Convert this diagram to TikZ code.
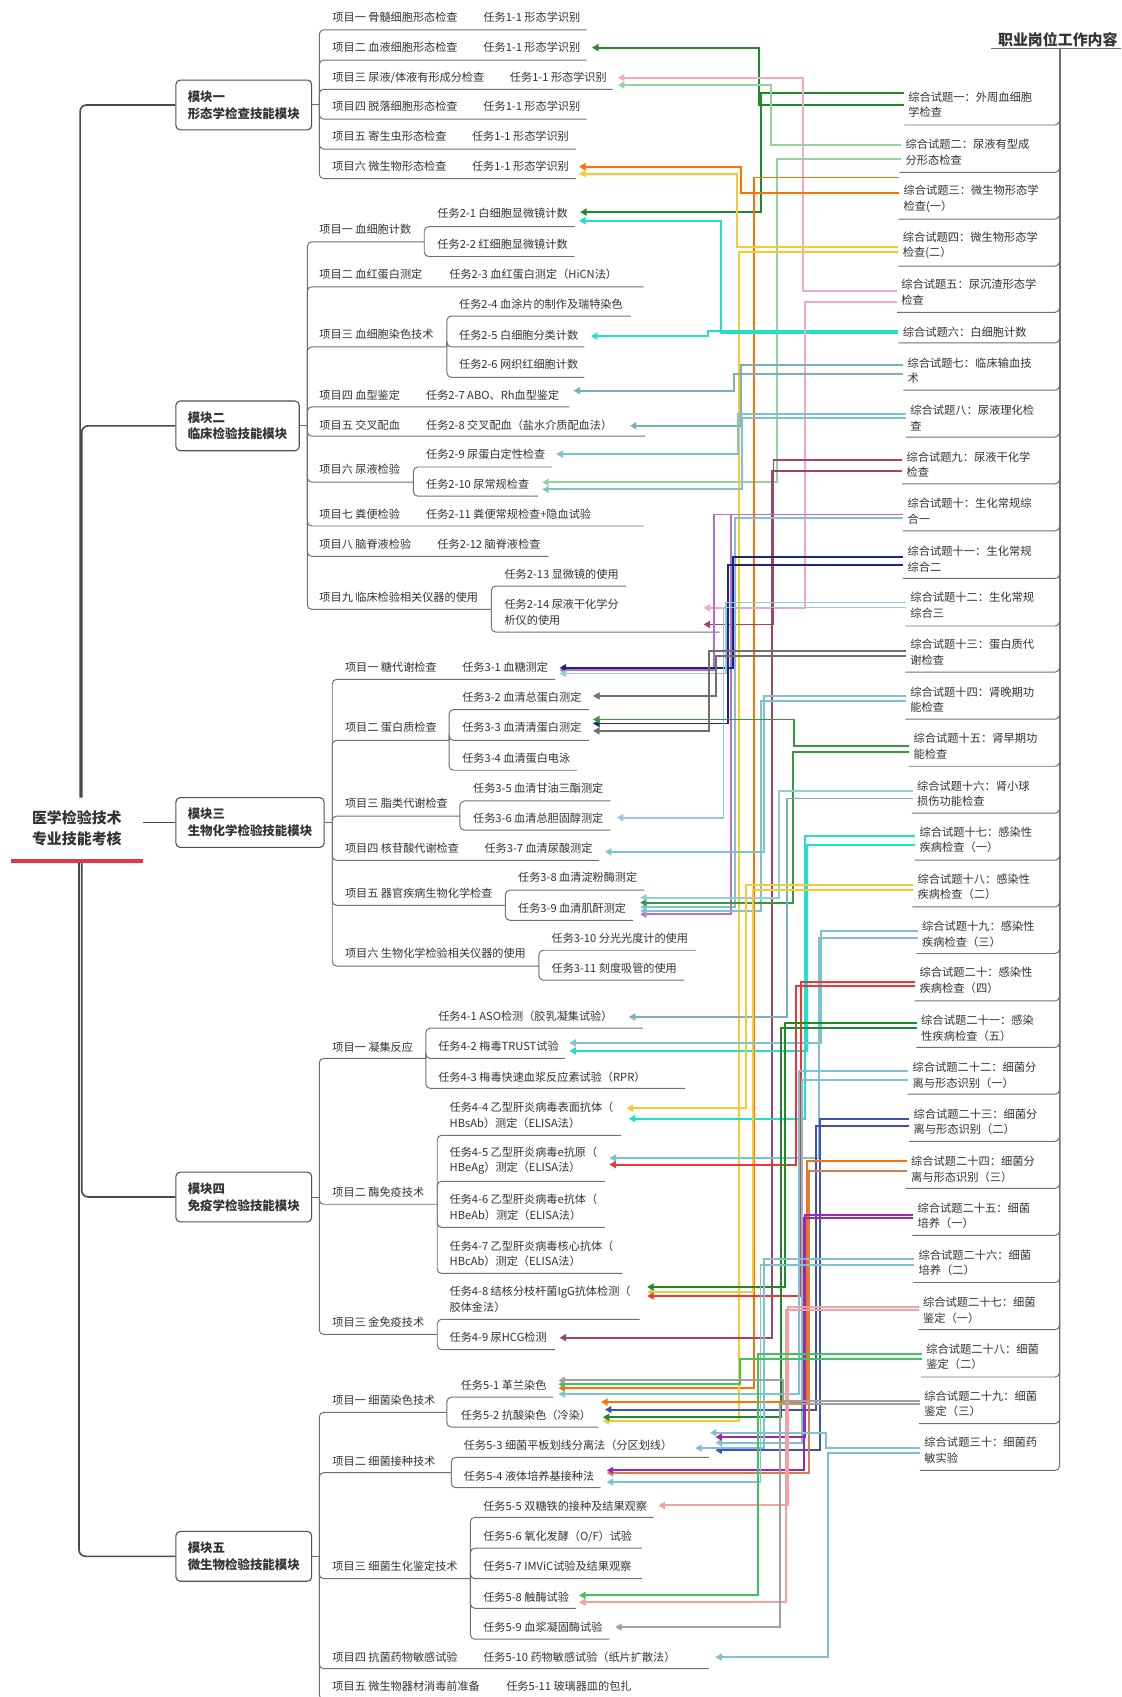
\documentclass[tikz,border=0pt]{standalone}
\usepackage{fontspec}
\setmainfont{Noto Sans CJK SC}
\usetikzlibrary{arrows.meta}
\definecolor{txtc}{HTML}{333333}
\definecolor{ulc}{HTML}{707070}
\definecolor{boxc}{HTML}{505050}
\definecolor{trc}{HTML}{4A4A4A}
\definecolor{rootred}{HTML}{E8334A}
\definecolor{dkgreen}{HTML}{1E8A28}
\definecolor{pinkc}{HTML}{F6A8CC}
\definecolor{lgreen}{HTML}{8FD49A}
\definecolor{orangec}{HTML}{FF7000}
\definecolor{yellowc}{HTML}{F8C930}
\definecolor{cyanc}{HTML}{1FE0C8}
\definecolor{lblue}{HTML}{7DC2D2}
\definecolor{lblueb}{HTML}{93CBDA}
\definecolor{steel}{HTML}{78B0C0}
\definecolor{cmaroon}{HTML}{A0446E}
\definecolor{orchid}{HTML}{BA6CCA}
\definecolor{cnavy}{HTML}{1C2580}
\definecolor{grayc}{HTML}{707070}
\definecolor{medgreen}{HTML}{349A3A}
\definecolor{redc}{HTML}{E8383A}
\definecolor{blueb}{HTML}{3F51B5}
\definecolor{brorange}{HTML}{D28048}
\definecolor{purplec}{HTML}{9C27B0}
\definecolor{salmon}{HTML}{F5A0A0}
\definecolor{bgreen}{HTML}{3DC45A}
\definecolor{lgray}{HTML}{A0A0A0}
\newcommand\cx[6]{\draw[conn,#1] (#2.west |- 0,#3) -| (#4,#5) -- (#6,#5);}
\begin{document}
\begin{tikzpicture}[x=1pt,y=-1pt,
  txt/.style={anchor=west,inner sep=0pt,font=\fontsize{10.3}{14.3}\selectfont,text=txtc,align=left},
  rtxt/.style={anchor=west,inner sep=0pt,font=\fontsize{10.4}{14.4}\selectfont,text=txtc,align=left},
  ul/.style={draw=ulc,line width=0.9pt,rounded corners=4pt},
  modbox/.style={draw=boxc,line width=1pt,rounded corners=4pt,fill=white,inner xsep=11pt,minimum height=46pt,align=left,font=\fontsize{11.5}{15.5}\selectfont\bfseries,text=txtc,anchor=west},
  trunk/.style={draw=trc,line width=1.5pt,rounded corners=6pt},
  conn/.style={line width=1.8pt,shorten <=4pt,-{Triangle[length=6pt,width=6.5pt]}}]
\useasboundingbox (0,0) rectangle (1036,1568);
\fill[white] (0,0) rectangle (1036,1568);
\clip (0,0) rectangle (1036,1568);

% ---------- root ----------
\node[align=center,inner sep=0pt,font=\fontsize{13.8}{19}\selectfont\bfseries,text=txtc] (root) at (71,765.5) {医学检验技术\\专业技能考核};
\draw[line width=3pt,draw=rootred] (10,795.5) -- (132,795.5);

% ---------- modules ----------
\node[modbox] (m1) at (162,97) {模块一\\形态学检查技能模块};
\node[modbox] (m2) at (162,393.5) {模块二\\临床检验技能模块};
\node[modbox] (m3) at (162,760) {模块三\\生物化学检验技能模块};
\node[modbox] (m4) at (162,1106) {模块四\\免疫学检验技能模块};
\node[modbox] (m5) at (162,1438) {模块五\\微生物检验技能模块};

\draw[trunk] (74,737) |- (m1.west);
\draw[trunk] (75.5,737) |- (m2.west);
\draw[trunk] (132,760) -- (m3.west);
\draw[trunk] (75.5,797) |- (m4.west);
\draw[trunk] (73,797) |- (m5.west);

% ---------- module 1 tree ----------
\draw[ul] (m1.east) -- (295,97);
\foreach \y/\e in {27.7/542,55.5/542,82.5/566,110/542,137.7/532,165/532} \draw[ul] (295,97) |- (\e,\y);
\node[txt] (a1) at (307,16) {项目一 骨髓细胞形态检查};
\node[txt] (a1t) at (446.5,16) {任务1-1 形态学识别};
\node[txt] (a2) at (307,44) {项目二 血液细胞形态检查};
\node[txt] (a2t) at (446.5,44) {任务1-1 形态学识别};
\node[txt] (a3) at (307,71.5) {项目三 尿液/体液有形成分检查};
\node[txt] (a3t) at (471,71.5) {任务1-1 形态学识别};
\node[txt] (a4) at (307,98.6) {项目四 脱落细胞形态检查};
\node[txt] (a4t) at (446.5,98.6) {任务1-1 形态学识别};
\node[txt] (a5) at (307,126) {项目五 寄生虫形态检查};
\node[txt] (a5t) at (436,126) {任务1-1 形态学识别};
\node[txt] (a6) at (307,153.4) {项目六 微生物形态检查};
\node[txt] (a6t) at (436,153.4) {任务1-1 形态学识别};

% ---------- module 2 tree ----------
\draw[ul] (m2.east) -- (284,393.5);
\foreach \y/\e in {223.5/392,265/594.6,320.5/413,376/526,403/596,445.4/382,486/594.6,514/507,563/454} \draw[ul] (284,393.5) |- (\e,\y);
\foreach \y/\e in {209.5/531,237/531} \draw[ul] (392,223.5) |- (\e,\y);
\foreach \y/\e in {292/583,320.5/540,348.6/540} \draw[ul] (413,320.5) |- (\e,\y);
\foreach \y/\e in {431.5/510,458.4/497} \draw[ul] (382,445.4) |- (\e,\y);
\foreach \y/\e in {541.5/578.6,584/665} \draw[ul] (454,563) |- (\e,\y);
\node[txt] (b1) at (295,212) {项目一 血细胞计数};
\node[txt] (t21) at (404,197) {任务2-1 白细胞显微镜计数};
\node[txt] (t22) at (404,226) {任务2-2 红细胞显微镜计数};
\node[txt] (b2) at (295,253) {项目二 血红蛋白测定};
\node[txt] (t23) at (415,253) {任务2-3 血红蛋白测定（HiCN法）};
\node[txt] (b3) at (295,309) {项目三 血细胞染色技术};
\node[txt] (t24) at (424,281) {任务2-4 血涂片的制作及瑞特染色};
\node[txt] (t25) at (424,309.6) {任务2-5 白细胞分类计数};
\node[txt] (t26) at (424,337) {任务2-6 网织红细胞计数};
\node[txt] (b4) at (295,365) {项目四 血型鉴定};
\node[txt] (t27) at (393.6,365) {任务2-7 ABO、Rh血型鉴定};
\node[txt] (b5) at (295,393) {项目五 交叉配血};
\node[txt] (t28) at (393.6,393) {任务2-8 交叉配血（盐水介质配血法）};
\node[txt] (b6) at (295,433.6) {项目六 尿液检验};
\node[txt] (t29) at (393.6,419.6) {任务2-9 尿蛋白定性检查};
\node[txt] (t210) at (393.6,447.5) {任务2-10 尿常规检查};
\node[txt] (b7) at (295,475) {项目七 粪便检验};
\node[txt] (t211) at (393.6,475) {任务2-11 粪便常规检查+隐血试验};
\node[txt] (b8) at (295,503) {项目八 脑脊液检验};
\node[txt] (t212) at (404,503) {任务2-12 脑脊液检查};
\node[txt] (b9) at (295,551.5) {项目九 临床检验相关仪器的使用};
\node[txt] (t213) at (466,530.5) {任务2-13 显微镜的使用};
\node[txt] (t214) at (466,565.5) {任务2-14 尿液干化学分\\析仪的使用};

% ---------- module 3 tree ----------
\draw[ul] (m3.east) -- (307,760);
\foreach \y/\e in {627.7/513,684/415,754/425,795/553.5,836.5/467,892.6/498} \draw[ul] (307,760) |- (\e,\y);
\foreach \y/\e in {655.6/544,684/544,711.7/533} \draw[ul] (415,684) |- (\e,\y);
\foreach \y/\e in {740/564,767/564} \draw[ul] (425,754) |- (\e,\y);
\foreach \y/\e in {822.5/595,850.3/585} \draw[ul] (467,836.5) |- (\e,\y);
\foreach \y/\e in {878/643,905.7/632} \draw[ul] (498,892.6) |- (\e,\y);
\node[txt] (c1) at (318.6,616.6) {项目一 糖代谢检查};
\node[txt] (t31) at (427,616.6) {任务3-1 血糖测定};
\node[txt] (c2) at (318.6,672) {项目二 蛋白质检查};
\node[txt] (t32) at (427,644) {任务3-2 血清总蛋白测定};
\node[txt] (t33) at (427,672) {任务3-3 血清清蛋白测定};
\node[txt] (t34) at (427,700.4) {任务3-4 血清蛋白电泳};
\node[txt] (c3) at (318.6,742) {项目三 脂类代谢检查};
\node[txt] (t35) at (437,728) {任务3-5 血清甘油三酯测定};
\node[txt] (t36) at (437,756) {任务3-6 血清总胆固醇测定};
\node[txt] (c4) at (318.6,784) {项目四 核苷酸代谢检查};
\node[txt] (t37) at (447.5,784) {任务3-7 血清尿酸测定};
\node[txt] (c5) at (318.6,825.3) {项目五 器官疾病生物化学检查};
\node[txt] (t38) at (478.6,810.5) {任务3-8 血清淀粉酶测定};
\node[txt] (t39) at (478.6,839) {任务3-9 血清肌酐测定};
\node[txt] (c6) at (318.6,881) {项目六 生物化学检验相关仪器的使用};
\node[txt] (t310) at (509.5,867) {任务3-10 分光光度计的使用};
\node[txt] (t311) at (509.5,894.6) {任务3-11 刻度吸管的使用};

% ---------- module 4 tree ----------
\draw[ul] (m4.east) -- (295,1106);
\foreach \y/\e in {978/393.5,1112.7/404,1233/404} \draw[ul] (295,1106) |- (\e,\y);
\foreach \y/\e in {950/594,978/522,1005.6/633} \draw[ul] (393.5,978) |- (\e,\y);
\foreach \y/\e in {1049/574,1091.5/559,1134/559,1176.6/575} \draw[ul] (404,1112.7) |- (\e,\y);
\foreach \y/\e in {1219/591,1247/513} \draw[ul] (404,1233) |- (\e,\y);
\node[txt] (d1) at (307,967.4) {项目一 凝集反应};
\node[txt] (t41) at (404.8,938.7) {任务4-1 ASO检测（胶乳凝集试验）};
\node[txt] (t42) at (404.8,966.7) {任务4-2 梅毒TRUST试验};
\node[txt] (t43) at (404.8,995) {任务4-3 梅毒快速血浆反应素试验（RPR）};
\node[txt] (d2) at (307,1101.5) {项目二 酶免疫技术};
\node[txt] (t44) at (415.3,1030.5) {任务4-4 乙型肝炎病毒表面抗体（\\HBsAb）测定（ELISA法）};
\node[txt] (t45) at (415.3,1072.3) {任务4-5 乙型肝炎病毒e抗原（\\HBeAg）测定（ELISA法）};
\node[txt] (t46) at (415.3,1115.5) {任务4-6 乙型肝炎病毒e抗体（\\HBeAb）测定（ELISA法）};
\node[txt] (t47) at (415.3,1158.5) {任务4-7 乙型肝炎病毒核心抗体（\\HBcAb）测定（ELISA法）};
\node[txt] (d3) at (307,1221.5) {项目三 金免疫技术};
\node[txt] (t48) at (415.3,1200.5) {任务4-8 结核分枝杆菌IgG抗体检测（\\胶体金法）};
\node[txt] (t49) at (415.3,1235.6) {任务4-9 尿HCG检测};

% ---------- module 5 tree ----------
\draw[ul] (m5.east) -- (295,1438);
\foreach \y/\e in {1305/413,1360.7/417,1458.6/434.7,1541.8/655,1570/600} \draw[ul] (295,1438) |- (\e,\y);
\foreach \y/\e in {1291/511,1318.6/553} \draw[ul] (413,1305) |- (\e,\y);
\foreach \y/\e in {1346.6/655,1374.6/555} \draw[ul] (417,1360.7) |- (\e,\y);
\foreach \y/\e in {1402/604,1430.5/593,1458.6/593,1486/532,1514.6/563} \draw[ul] (434.7,1458.6) |- (\e,\y);
\node[txt] (e1) at (307,1294) {项目一 细菌染色技术};
\node[txt] (t51) at (425.6,1280) {任务5-1 革兰染色};
\node[txt] (t52) at (425.6,1308) {任务5-2 抗酸染色（冷染）};
\node[txt] (e2) at (307,1350) {项目二 细菌接种技术};
\node[txt] (t53) at (428.5,1335.5) {任务5-3 细菌平板划线分离法（分区划线）};
\node[txt] (t54) at (428.5,1364) {任务5-4 液体培养基接种法};
\node[txt] (e3) at (307,1447.5) {项目三 细菌生化鉴定技术};
\node[txt] (t55) at (446.4,1391.7) {任务5-5 双糖铁的接种及结果观察};
\node[txt] (t56) at (446.4,1419.5) {任务5-6 氧化发酵（O/F）试验};
\node[txt] (t57) at (446.4,1447.5) {任务5-7 IMViC试验及结果观察};
\node[txt] (t58) at (446.4,1475.7) {任务5-8 触酶试验};
\node[txt] (t59) at (446.4,1503.5) {任务5-9 血浆凝固酶试验};
\node[txt] (e4) at (307,1531) {项目四 抗菌药物敏感试验};
\node[txt] (t510) at (446.4,1531) {任务5-10 药物敏感试验（纸片扩散法）};
\node[txt] (e5) at (307,1558) {项目五 微生物器材消毒前准备};
\node[txt] (t511) at (467.6,1558) {任务5-11 玻璃器皿的包扎};

% ---------- right side ----------
\node[anchor=west,inner sep=0pt,font=\fontsize{13.8}{16}\selectfont\bfseries,text=txtc] (hd) at (922,36.4) {职业岗位工作内容};
\draw[ul] (916,44.7) -- (1036,44.7);
\foreach \y/\l in {115.5/835.6,159.3/831,202.4/830,245.8/830,288.6/829,316.9/830,360.5/834.8,403.8/837,447/833.6,490.5/834,534.5/834,578.4/836.5,621/836.5,664.5/836.5,708/840,751.4/842.6,794.8/845,838/843,881/847,924.8/845,967.8/846.6,1011/838.5,1054.5/840,1098/837,1141.5/843,1185/844,1228.5/848.7,1272.3/851,1315.4/849,1358.6/850} \draw[ul] (979,44.7) |- (\l,\y);
\node[rtxt] (r1) at (839,96.9) {综合试题一：外周血细胞\\学检查};
\node[rtxt] (r2) at (836.5,140.6) {综合试题二：尿液有型成\\分形态检查};
\node[rtxt] (r3) at (834.7,183.8) {综合试题三：微生物形态学\\检查(一）};
\node[rtxt] (r4) at (834,226.8) {综合试题四：微生物形态学\\检查(二）};
\node[rtxt] (r5) at (832.7,270.2) {综合试题五：尿沉渣形态学\\检查};
\node[rtxt] (r6) at (834,306.6) {综合试题六：白细胞计数};
\node[rtxt] (r7) at (838.5,342.5) {综合试题七：临床输血技\\术};
\node[rtxt] (r8) at (841,386.2) {综合试题八：尿液理化检\\查};
\node[rtxt] (r9) at (837.4,429.2) {综合试题九：尿液干化学\\检查};
\node[rtxt] (r10) at (838.5,472.3) {综合试题十：生化常规综\\合一};
\node[rtxt] (r11) at (838.5,516.5) {综合试题十一：生化常规\\综合二};
\node[rtxt] (r12) at (841,559.2) {综合试题十二：生化常规\\综合三};
\node[rtxt] (r13) at (841,602.7) {综合试题十三：蛋白质代\\谢检查};
\node[rtxt] (r14) at (841,646.4) {综合试题十四：肾晚期功\\能检查};
\node[rtxt] (r15) at (844,689.4) {综合试题十五：肾早期功\\能检查};
\node[rtxt] (r16) at (847.2,733.4) {综合试题十六：肾小球\\损伤功能检查};
\node[rtxt] (r17) at (849.4,776) {综合试题十七：感染性\\疾病检查（一）};
\node[rtxt] (r18) at (847.7,819.4) {综合试题十八：感染性\\疾病检查（二）};
\node[rtxt] (r19) at (851.8,863.1) {综合试题十九：感染性\\疾病检查（三）};
\node[rtxt] (r20) at (849.6,906) {综合试题二十：感染性\\疾病检查（四）};
\node[rtxt] (r21) at (851,950) {综合试题二十一：感染\\性疾病检查（五）};
\node[rtxt] (r22) at (843,993.3) {综合试题二十二：细菌分\\离与形态识别（一）};
\node[rtxt] (r23) at (844,1036.6) {综合试题二十三：细菌分\\离与形态识别（二）};
\node[rtxt] (r24) at (841.6,1080.2) {综合试题二十四：细菌分\\离与形态识别（三）};
\node[rtxt] (r25) at (847.7,1123.5) {综合试题二十五：细菌\\培养（一）};
\node[rtxt] (r26) at (848.6,1166.8) {综合试题二十六：细菌\\培养（二）};
\node[rtxt] (r27) at (852.7,1210.4) {综合试题二十七：细菌\\鉴定（一）};
\node[rtxt] (r28) at (855.8,1253.7) {综合试题二十八：细菌\\鉴定（二）};
\node[rtxt] (r29) at (854,1297) {综合试题二十九：细菌\\鉴定（三）};
\node[rtxt] (r30) at (854,1340.1) {综合试题三十：细菌药\\敏实验};

% ---------- connectors ----------
\cx{dkgreen}{r1}{97}{701.5}{44}{547}
\cx{dkgreen}{r1}{85.6}{703.5}{196}{536}
\cx{pinkc}{r5}{268.7}{742}{71.8}{571}
\cx{lgreen}{r2}{134}{712.6}{78.6}{571}
\cx{lgreen}{r2}{147}{718}{445.6}{501}
\cx{orangec}{r3}{178}{684.8}{154}{535}
\cx{orangec}{r3}{164}{696.5}{1282.5}{516}
\cx{yellowc}{r4}{228.5}{680.8}{160.5}{535}
\cx{yellowc}{r4}{232.6}{682.6}{1313}{557}
\cx{cyanc}{r6}{308}{666}{204}{535}
\cx{cyanc}{r6}{305.5}{654}{310.5}{546}
\cx{pinkc}{r5}{279}{744}{561.6}{650}
\cx{steel}{r7}{346}{678.4}{361}{530}
\cx{steel}{r7}{337.3}{684.5}{393.4}{582}
\cx{lblue}{r8}{382.6}{682}{419.6}{514}
\cx{lblue}{r8}{386.6}{686}{452.2}{501}
\cx{cmaroon}{r9}{425}{714.7}{577}{650}
\cx{cmaroon}{r9}{435.6}{713}{1236}{517}
\cx{orchid}{r10}{475.4}{660}{619.2}{517}
\cx{lblue}{r10}{478.5}{679.3}{838}{591.5}
\cx{orchid}{r10}{475.4}{675}{844.7}{591.5}
\cx{cnavy}{r11}{515}{677}{617}{517}
\cx{cnavy}{r11}{522}{673}{668.5}{548}
\cx{lblueb}{r12}{556.7}{671}{622.3}{517}
\cx{lblueb}{r12}{561.3}{668.5}{755.4}{570}
\cx{grayc}{r13}{601.7}{654.7}{675.3}{548}
\cx{grayc}{r13}{606.3}{661.7}{643}{548}
\cx{lblue}{r14}{643.3}{705.5}{787}{559}
\cx{lblue}{r14}{647.6}{703.3}{841.7}{591.5}
\cx{medgreen}{r15}{689.5}{734}{664.8}{548}
\cx{medgreen}{r15}{694.7}{732.6}{834}{591.5}
\cx{lblueb}{r16}{730.7}{720}{829.3}{591.5}
\cx{steel}{r16}{737.8}{727}{939.6}{581}
\cx{cyanc}{r17}{772.6}{744}{1033.6}{581}
\cx{cyanc}{r17}{781}{746}{971}{526}
\cx{yellowc}{r18}{817.3}{689}{1024}{579}
\cx{yellowc}{r18}{822.6}{695.6}{1193.7}{598}
\cx{lblue}{r19}{860.4}{758.5}{963.6}{526}
\cx{lblue}{r19}{866.3}{756.3}{1070}{563}
\cx{redc}{r20}{907.3}{740.3}{1197.5}{598}
\cx{redc}{r20}{911}{735.7}{1076}{563}
\cx{dkgreen}{r21}{945.2}{725.5}{1189.2}{598}
\cx{dkgreen}{r21}{949.8}{721.2}{1309.5}{557}
\cx{lblue}{r22}{989.5}{738.5}{1288}{516}
\cx{lblue}{r22}{997.5}{741}{1333}{661}
\cx{blueb}{r23}{1034.2}{757.9}{1340}{661}
\cx{blueb}{r23}{1040.7}{754.2}{1302.5}{559}
\cx{orangec}{r24}{1072.7}{745.8}{1295.5}{555.4}
\cx{brorange}{r24}{1082.3}{747.4}{1361}{560.6}
\cx{purplec}{r25}{1123}{744.2}{1327.8}{661}
\cx{purplec}{r25}{1125.4}{742.5}{1358.6}{560.6}
\cx{lblue}{r26}{1163}{706}{1338}{642.3}
\cx{lblue}{r26}{1169}{702.7}{1369.4}{560.6}
\cx{salmon}{r27}{1207.7}{728}{1391}{608.4}
\cx{salmon}{r27}{1210.7}{726}{1480.3}{535}
\cx{bgreen}{r28}{1250.8}{700.2}{1474}{535}
\cx{bgreen}{r28}{1255.4}{684}{1279}{516}
\cx{lgray}{r29}{1294.8}{723.3}{1275.5}{516}
\cx{lgray}{r29}{1297.6}{721}{1503.4}{568.4}
\cx{lblue}{r30}{1337.6}{763.4}{1323.8}{656}
\cx{lblue}{r30}{1342.3}{765}{1531.1}{661}
\end{tikzpicture}
\end{document}
